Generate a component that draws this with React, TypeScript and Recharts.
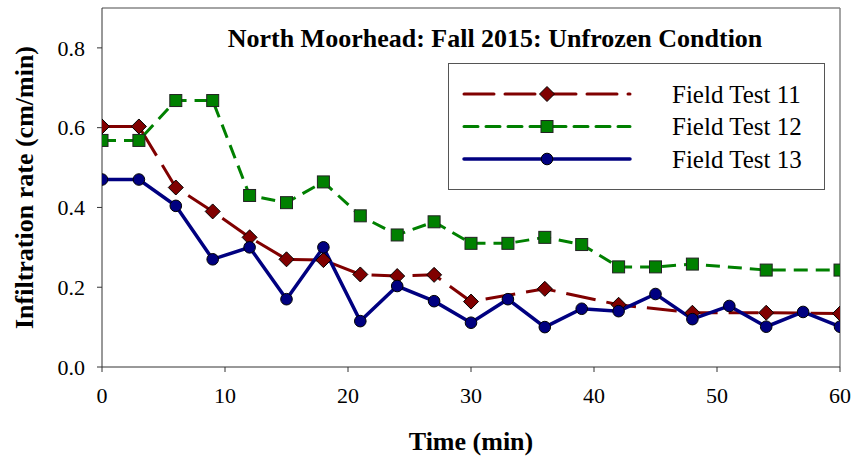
import React from 'react';
import {
  LineChart, Line, XAxis, YAxis, ReferenceLine, Legend,
} from 'recharts';

// Infiltration rate readings (cm/min) against elapsed time (min)
const TIME_11 = [0, 3, 6, 9, 12, 15, 18, 21, 24, 27, 30, 36, 42, 48, 54, 60];
const RATE_11 = [0.603, 0.603, 0.45, 0.39, 0.325, 0.27, 0.268, 0.232, 0.228, 0.231, 0.164, 0.196, 0.156, 0.136, 0.136, 0.134];

const TIME_12 = [0, 3, 6, 9, 12, 15, 18, 21, 24, 27, 30, 33, 36, 39, 42, 45, 48, 54, 60];
const RATE_12 = [0.568, 0.568, 0.668, 0.668, 0.43, 0.412, 0.464, 0.379, 0.331, 0.364, 0.31, 0.31, 0.325, 0.307, 0.251, 0.251, 0.258, 0.243, 0.243];

const TIME_13 = [0, 3, 6, 9, 12, 15, 18, 21, 24, 27, 30, 33, 36, 39, 42, 45, 48, 51, 54, 57, 60];
const RATE_13 = [0.47, 0.47, 0.404, 0.27, 0.30, 0.17, 0.30, 0.115, 0.203, 0.165, 0.111, 0.17, 0.10, 0.146, 0.14, 0.183, 0.12, 0.153, 0.101, 0.138, 0.101];

const X_TICKS = [0, 10, 20, 30, 40, 50, 60];
const Y_TICKS = [0, 0.2, 0.4, 0.6, 0.8];

const TITLE = 'North Moorhead: Fall 2015: Unfrozen Condtion';
const FONT = '"Liberation Serif", "Times New Roman", serif';

const toPoints = (times: number[], rates: number[]) =>
  times.map((t, i) => ({ t, v: rates[i] }));

const test11 = toPoints(TIME_11, RATE_11);
const test12 = toPoints(TIME_12, RATE_12);
const test13 = toPoints(TIME_13, RATE_13);

type MarkerKind = 'diamond' | 'square' | 'circle';

const SERIES = [
  { name: 'Field Test 11', data: test11, color: '#800000', dash: '30 11', width: 3, marker: 'diamond' as MarkerKind },
  { name: 'Field Test 12', data: test12, color: '#008000', dash: '14 8', width: 3, marker: 'square' as MarkerKind },
  { name: 'Field Test 13', data: test13, color: '#000080', dash: undefined, width: 3.5, marker: 'circle' as MarkerKind },
];

const Marker = ({ kind, cx, cy, fill }: { kind: MarkerKind; cx: number; cy: number; fill: string }) => {
  if (kind === 'diamond') {
    const r = 7.5;
    return (
      <path
        d={`M${cx},${cy - r} L${cx + r},${cy} L${cx},${cy + r} L${cx - r},${cy} Z`}
        fill={fill} stroke="#000" strokeWidth={1}
      />
    );
  }
  if (kind === 'square') {
    const h = 6;
    return <rect x={cx - h} y={cy - h} width={h * 2} height={h * 2} fill={fill} stroke="#222" strokeWidth={1} />;
  }
  return <circle cx={cx} cy={cy} r={5.8} fill={fill} stroke="#000" strokeWidth={1} />;
};

const makeDot = (kind: MarkerKind, fill: string) => (props: any) => {
  const { cx, cy, index } = props;
  if (cx == null || cy == null) return <g key={`m-${index}`} />;
  return (
    <g key={`m-${kind}-${index}`}>
      <Marker kind={kind} cx={cx} cy={cy} fill={fill} />
    </g>
  );
};

const LegendBox = () => (
  <div
    style={{
      width: 377, height: 127, border: '1px solid #555', background: '#fff',
      boxSizing: 'border-box',
    }}
  >
    <svg width={375} height={125}>
      {SERIES.map((s, i) => {
        const y = 30 + i * 32.5;
        return (
          <g key={s.name}>
            <line x1={15} x2={181} y1={y} y2={y} stroke={s.color} strokeWidth={s.width}
              strokeDasharray={s.dash} strokeLinecap="round" />
            <Marker kind={s.marker} cx={98} cy={y} fill={s.color} />
            <text x={223} y={y} dy="0.35em" fontFamily={FONT} fontSize={25} fill="#000">
              {s.name}
            </text>
          </g>
        );
      })}
    </svg>
  </div>
);

export default function App() {
  return (
    <div style={{ position: 'absolute', left: 0, top: 0, background: '#fff' }}>
      <LineChart
        width={856}
        height={459}
        margin={{ top: 8, right: 16, left: 0, bottom: 0 }}
        style={{ fontFamily: FONT }}
      >
        <XAxis
          type="number"
          dataKey="t"
          domain={[0, 60]}
          ticks={X_TICKS}
          allowDataOverflow
          height={92}
          stroke="#333"
          tickSize={5}
          tickMargin={15}
          tick={{ fill: '#000', fontSize: 22, fontFamily: FONT }}
          label={{
            value: 'Time (min)', position: 'insideBottom', offset: 9,
            style: { fontSize: 26, fontWeight: 'bold', fill: '#000', fontFamily: FONT },
          }}
        />
        <YAxis
          type="number"
          domain={[0, 0.9]}
          ticks={Y_TICKS}
          allowDataOverflow
          width={102}
          stroke="#333"
          tickSize={5}
          tickMargin={12}
          tickFormatter={(v: number) => v.toFixed(1)}
          tick={{ fill: '#000', fontSize: 22, fontFamily: FONT }}
          label={{
            value: 'Infiltration rate (cm/min)', angle: -90, position: 'insideLeft', offset: 24,
            style: { fontSize: 26, fontWeight: 'bold', fill: '#000', fontFamily: FONT, textAnchor: 'middle' },
          }}
        />
        {/* top and right edges of the plot frame */}
        <ReferenceLine y={0.9} stroke="#868686" strokeWidth={1.5} />
        <ReferenceLine x={60} stroke="#868686" strokeWidth={1.5} />
        <text x={495} y={47} textAnchor="middle" fontFamily={FONT} fontSize={26} fontWeight="bold" fill="#000">
          {TITLE}
        </text>
        {SERIES.map((s) => (
          <Line
            key={s.name}
            name={s.name}
            data={s.data}
            dataKey="v"
            type="linear"
            stroke={s.color}
            strokeWidth={s.width}
            strokeDasharray={s.dash}
            dot={makeDot(s.marker, s.color)}
            activeDot={false}
            isAnimationActive={false}
          />
        ))}
        <Legend
          layout="vertical"
          align="center"
          verticalAlign="middle"
          content={() => <LegendBox />}
          wrapperStyle={{ left: 448, top: 63, width: 377, height: 127 }}
        />
      </LineChart>
    </div>
  );
}
